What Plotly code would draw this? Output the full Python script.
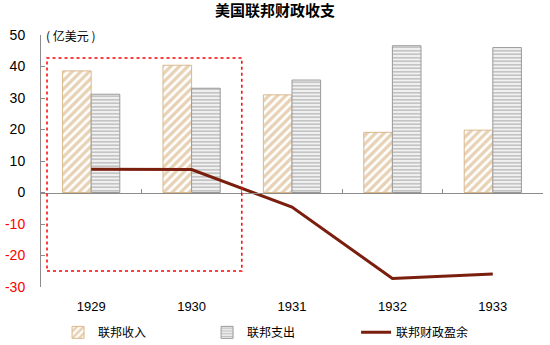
import plotly.graph_objects as go

# US federal budget, 1929-1933 (100 million USD)
years = ["1929", "1930", "1931", "1932", "1933"]
revenue = [38.6, 40.4, 31.0, 19.1, 19.8]
expenditure = [31.2, 33.1, 35.7, 46.6, 46.0]
surplus = [7.4, 7.3, -4.6, -27.3, -25.9]

y_ticks = [50, 40, 30, 20, 10, 0, -10, -20, -30]

# highlighted period (1929-1930), in category / value units
box_x = [-0.44, 1.5]
box_y = [-24.9, 42.7]

x_pos = list(range(len(years)))

fig = go.Figure()

fig.add_trace(go.Bar(
    x=x_pos, y=revenue, name="联邦收入",
    marker=dict(color="white",
                line=dict(color="#D9B98C", width=1),
                pattern=dict(shape="/", fgcolor="#CFA56C", bgcolor="white",
                             size=6, solidity=0.55)),
))
fig.add_trace(go.Bar(
    x=x_pos, y=expenditure, name="联邦支出",
    marker=dict(color="white",
                line=dict(color="#9A9A9A", width=1),
                pattern=dict(shape="-", fgcolor="#8C8C8C", bgcolor="#F2F2F2",
                             size=3.5, solidity=0.45)),
))
fig.add_trace(go.Scatter(
    x=x_pos, y=surplus, name="联邦财政盈余", mode="lines",
    line=dict(color="#7A1E0E", width=3),
))
# carrier for the zero-line axis with boundary ticks
fig.add_trace(go.Scatter(
    x=[0], y=[0], xaxis="x2", mode="markers",
    marker=dict(opacity=0), showlegend=False, hoverinfo="skip",
))

fig.add_shape(type="rect", xref="x", yref="y",
              x0=box_x[0], x1=box_x[1], y0=box_y[0], y1=box_y[1],
              line=dict(color="#FF0000", width=1.5, dash="dot"))

tick_text = [
    (f'<span style="color:#FF0000">{v}</span>' if v < 0 else str(v))
    for v in y_ticks
]

y_min, y_max = -30, 50
zero_pos = (0 - y_min) / (y_max - y_min)

fig.update_layout(
    width=550, height=345,
    margin=dict(l=41, r=7, t=35, b=58, autoexpand=False),
    paper_bgcolor="white", plot_bgcolor="white",
    title=dict(text="<b>美国联邦财政收支</b>", x=0.5, xanchor="center",
               y=0.985, yanchor="top",
               font=dict(family="Noto Sans CJK SC", size=15, color="#000000")),
    barmode="group", bargap=0.43, bargroupgap=0,
    font=dict(family="Liberation Sans", size=12, color="#000000"),
    xaxis=dict(range=[-0.5, 4.5], tickvals=x_pos, ticktext=years,
               showline=False, showgrid=False, zeroline=False, ticks="",
               ticklabelstandoff=10,
               tickfont=dict(family="Liberation Sans", size=13)),
    xaxis2=dict(range=[-0.5, 4.5], overlaying="x", anchor="free",
                position=zero_pos, side="bottom",
                showline=True, linecolor="#8C8C8C", linewidth=1,
                ticks="inside", ticklen=4, tickcolor="#8C8C8C",
                tickvals=[0.5, 1.5, 2.5, 3.5], showticklabels=False,
                showgrid=False, zeroline=False),
    yaxis=dict(range=[y_min, y_max], tickvals=y_ticks, ticktext=tick_text,
               showline=True, linecolor="#8C8C8C", linewidth=1,
               ticks="inside", ticklen=4, tickcolor="#8C8C8C",
               showgrid=False, zeroline=False, ticklabelstandoff=12,
               tickfont=dict(family="Liberation Sans", size=14)),
    legend=dict(orientation="h", x=0.034, xanchor="left",
                y=-0.18, yanchor="middle",
                entrywidth=104, entrywidthmode="pixels",
                font=dict(family="Noto Sans CJK SC", size=12),
                bgcolor="rgba(0,0,0,0)"),
    annotations=[dict(text="( 亿美元 )", xref="paper", yref="paper",
                      x=0.005, y=1.0, xanchor="left", yanchor="middle",
                      showarrow=False,
                      font=dict(family="Noto Sans CJK SC", size=12))],
)

fig.write_html("out.html")
